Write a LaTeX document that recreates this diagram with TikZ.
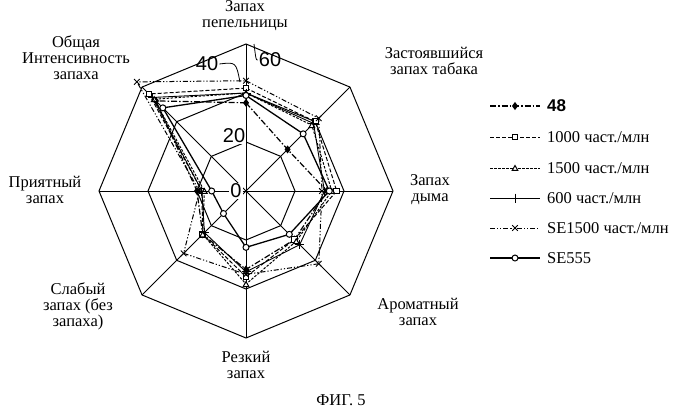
\documentclass[tikz,border=0pt]{standalone}
\usepackage{fontspec}
\setmainfont{Liberation Serif}
\newfontfamily\numfont{Liberation Sans}
\usetikzlibrary{plotmarks,calc}
\begin{document}
\begin{tikzpicture}[x=1pt,y=1pt,
  lbl/.style={align=center,inner sep=1pt,font=\fontsize{16.5}{16}\selectfont},
  num/.style={inner sep=1pt,font=\fontsize{20}{20}\selectfont\numfont},
  sd/.style={line width=1.2pt,dash pattern=on 6pt off 2pt on 1.5pt off 2pt},
  sq/.style={line width=1pt,dash pattern=on 4pt off 2pt},
  st/.style={line width=1pt,dash pattern=on 2.5pt off 1.5pt},
  sp/.style={line width=0.9pt},
  sx/.style={line width=1pt,dash pattern=on 5pt off 2pt on 1.2pt off 2pt on 1.2pt off 2pt},
  sc/.style={line width=1.3pt}]
\useasboundingbox (0,0) rectangle (700,-410);
\coordinate (O) at (246,-191);
\def\u{2.45}
% grid
\foreach \r in {20,40,60}{
  \draw[line width=1pt] ([shift={(O)}]90:\r*\u) \foreach \i in {1,...,7}{ -- ([shift={(O)}]90-45*\i:\r*\u)} -- cycle;}
\foreach \i in {0,...,7}{\draw[line width=1pt] (O) -- ([shift={(O)}]90-45*\i:60*\u);}
% series
\newcommand\series[4]{%
  \draw[#1] ([shift={(O)}]90:#4*\u) \foreach[count=\i from 0] \v in {#2}{ -- ([shift={(O)}]90-45*\i:\v*\u)} -- cycle;
  \foreach[count=\i from 0] \v in {#2}{\node[inner sep=0] at ([shift={(O)}]90-45*\i:\v*\u) {\tikz\draw[solid,line width=1pt,#3] plot coordinates{(0,0)};};}}
\series{sd}{36,24,33,28,32,25,20,52}{mark=diamond*,mark size=3.2pt}{36}
\series{sq}{42,40,37,28,35,25,18,56}{mark=square*,mark size=2.8pt,mark options={fill=white}}{42}
\series{st}{40,38,35,29,38,25,17,53}{mark=triangle*,mark size=3.3pt,mark options={fill=white}}{40}
\series{sp}{40,39,32,31,33,24,18,54}{mark=+,mark size=4.5pt}{40}
\series{sx}{45,42,31,42,34,36,19,63}{mark=x,mark size=4pt}{45}
\series{sc}{39,33,34,25,23,13,14,48}{mark=*,mark size=3pt,mark options={fill=white}}{39}
% scale labels
\node[num,fill=white] at (236,-191) {0};
\node[num,fill=white] at (234,-136) {20};
\node[num] (n40) at (207,-64) {40};
\node[num] (n60) at (270,-60) {60};
\draw[line width=0.8pt] (n40.east) .. controls (236,-62) .. (240,-82);
\draw[line width=0.8pt] (n60.west) .. controls (256,-60) .. (254,-44);
% axis labels
\node[lbl] at (245,-16) {Запах\\пепельницы};
\node[lbl] at (434,-61) {Застоявшийся\\запах табака};
\node[lbl] at (430,-190) {Запах\\дыма};
\node[lbl] at (418,-312) {Ароматный\\запах};
\node[lbl] at (246,-365) {Резкий\\запах};
\node[lbl] at (78,-306) {Слабый\\запах (без\\запаха)};
\node[lbl] at (45,-190) {Приятный\\запах};
\node[lbl] at (76,-58) {Общая\\Интенсивность\\запаха};
% legend
\newcommand\leg[5]{%
  \coordinate (a#5) at (490,#4); \coordinate (b#5) at (540,#4);
  \draw[#1] (a#5) -- (b#5);
  \node[inner sep=0] at ($(a#5)!0.5!(b#5)$) {\tikz\draw[solid,line width=1pt,#2] plot coordinates{(0,0)};};
  \node[lbl,anchor=west] at (546,#4) {#3};}
\leg{sd}{mark=diamond*,mark size=3.2pt}{\fontsize{17}{17}\selectfont\numfont\bfseries 48}{-106}{1}
\leg{sq}{mark=square*,mark size=2.8pt,mark options={fill=white}}{1000 част./млн}{-137}{2}
\leg{st}{mark=triangle*,mark size=3.3pt,mark options={fill=white}}{1500 част./млн}{-168}{3}
\leg{sp}{mark=+,mark size=4.5pt}{600 част./млн}{-198}{4}
\leg{sx}{mark=x,mark size=4pt}{SE1500 част./млн}{-228}{5}
\leg{sc}{mark=*,mark size=3pt,mark options={fill=white}}{SE555}{-258}{6}
\node[lbl] at (341,-400) {ФИГ. 5};
\end{tikzpicture}
\end{document}
